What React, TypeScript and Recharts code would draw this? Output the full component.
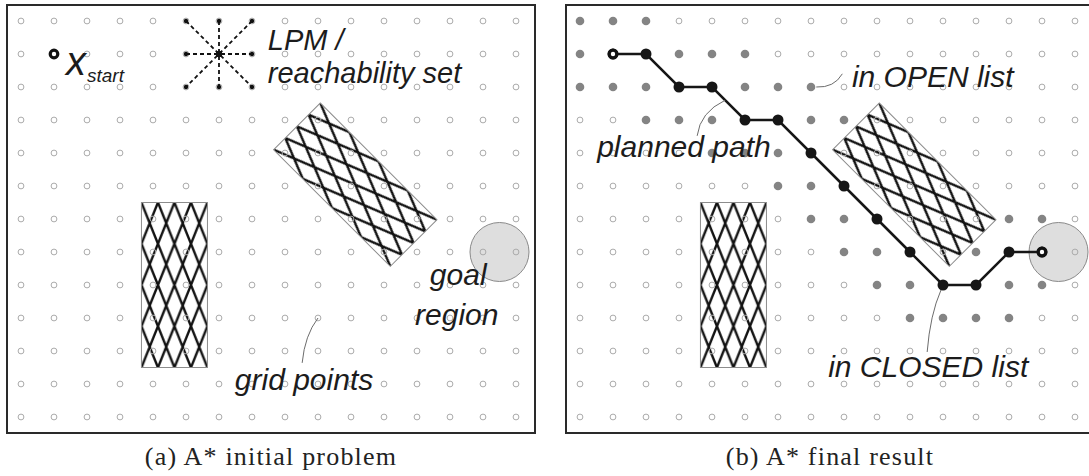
import React from 'react';
import { ScatterChart, Scatter, XAxis, YAxis } from 'recharts';

// grid of the planning problem (column / row indices)
const COLS = [0, 1, 2, 3, 4, 5, 6, 7, 8, 9, 10, 11, 12, 13, 14, 15];
const ROWS = [0, 1, 2, 3, 4, 5, 6, 7, 8, 9, 10, 11, 12];

const START = [{ x: 1, y: 1 }];
const GOAL = [{ x: 14, y: 7 }];
const GOAL_REGION = [{ x: 14.5, y: 7 }];

// LPM star around one grid point
const LPM_CENTER = [{ x: 6, y: 1 }];
const LPM_RAYS = [
  [{ x: 5, y: 1 }, { x: 6, y: 1 }, { x: 7, y: 1 }],
  [{ x: 6, y: 0 }, { x: 6, y: 1 }, { x: 6, y: 2 }],
  [{ x: 5, y: 0 }, { x: 6, y: 1 }, { x: 7, y: 2 }],
  [{ x: 7, y: 0 }, { x: 6, y: 1 }, { x: 5, y: 2 }],
];
const LPM_ENDS = [
  { x: 5, y: 0 }, { x: 6, y: 0 }, { x: 7, y: 0 }, { x: 5, y: 1 },
  { x: 7, y: 1 }, { x: 5, y: 2 }, { x: 6, y: 2 }, { x: 7, y: 2 },
];

// search result, one string per row: G = visited, P = on path, S = start, E = goal
const SEARCH_B = [
  'GGG.............',
  'GSPGGG..........',
  'GGGPPGGG........',
  '..GGGPPGG.......',
  '....GGGP........',
  '......GGP.......',
  '.......GGP...GG.',
  '........GGP.GPE.',
  '.........GGPPGG.',
  '..........GGGG..',
  '................',
  '................',
  '................',
];
const PATH_B = [
  [1, 1], [2, 1], [3, 2], [4, 2], [5, 3], [6, 3], [7, 4],
  [8, 5], [9, 6], [10, 7], [11, 8], [12, 8], [13, 7], [14, 7],
];

// obstacles: centre, size in grid units, rotation
const OBSTACLES = [
  { x: 4.65, y: 8.0, w: 2, h: 5, angle: 0 },
  { x: 10.13, y: 4.96, w: 2, h: 5, angle: -45 },
];

const UNIT = 33;
const INNER_W = 526;
const INNER_H = 426;
const MARGIN = { top: 15, right: 18, bottom: 15, left: 13 };
const TILE_W = 16.5;
const TILE_H = 41.25;
const LABEL_FONT = '"Liberation Sans", Arial, sans-serif';

const NOTES_A = [
  { x: 1.36, y: 1.64, text: 'x', size: 40 },
  { x: 2.0, y: 1.85, text: 'start', size: 19 },
  { x: 7.48, y: 0.88, text: 'LPM /', size: 29 },
  { x: 7.48, y: 1.88, text: 'reachability set', size: 29 },
  { x: 12.39, y: 8.0, text: 'goal', size: 30 },
  { x: 11.94, y: 9.21, text: 'region', size: 30 },
  { x: 6.48, y: 11.18, text: 'grid points', size: 30 },
];
const NOTES_B = [
  { x: 8.24, y: 2.0, text: 'in OPEN list', size: 30 },
  { x: 0.52, y: 4.12, text: 'planned path', size: 30 },
  { x: 7.52, y: 10.79, text: 'in CLOSED list', size: 30 },
];
const POINTERS_A = [{ x: 8.52, y: 10.36, ctrl: [8.6, 9.52], to: [9, 9] }];
const POINTERS_B = [
  { x: 3.55, y: 3.48, ctrl: [3.64, 2.76], to: [4.4, 2.4] },
  { x: 7.16, y: 2.0, ctrl: [7.7, 2.03], to: [7.95, 1.6] },
  { x: 10.52, y: 10.03, ctrl: [10.61, 8.9], to: [10.94, 8.15] },
];

const gridAll = ROWS.flatMap((r) => COLS.map((c) => ({ x: c, y: r })));
const cellsB = (ch: string) =>
  ROWS.flatMap((r) => COLS.filter((c) => SEARCH_B[r][c] === ch).map((c) => ({ x: c, y: r })));
const hollowB = cellsB('.');
const openB = cellsB('G');
const pathB = PATH_B.map(([x, y]) => ({ x, y }));

const Nothing = () => <g />;
const Hollow = (p: any) => (
  <circle cx={p.cx} cy={p.cy} r={2.9} fill="none" stroke="#ababab" strokeWidth={1} />
);
const OpenDot = (p: any) => <circle cx={p.cx} cy={p.cy} r={4.3} fill="#848484" />;
const PathDot = (p: any) => <circle cx={p.cx} cy={p.cy} r={5.5} fill="#161616" />;
const Ring = (p: any) => (
  <circle cx={p.cx} cy={p.cy} r={3.8} fill="#fff" stroke="#111" strokeWidth={3.2} />
);
const SmallDot = (p: any) => <circle cx={p.cx} cy={p.cy} r={2.2} fill="#111" />;
const CenterDot = (p: any) => <circle cx={p.cx} cy={p.cy} r={3.2} fill="#111" />;
const GoalArea = (p: any) => (
  <circle cx={p.cx} cy={p.cy} r={0.894 * UNIT} fill="#dedede" stroke="#8a8a8a" strokeWidth={1} />
);

const makeObstacle = (panel: string) => (p: any) => {
  const { w, h, angle } = p.payload;
  const id = `hatch-${panel}-${p.index}`;
  const wp = w * UNIT;
  const hp = h * UNIT;
  const W = TILE_W;
  const H = TILE_H;
  const d = [
    `M${-W},${-H}L${2 * W},${2 * H}`,
    `M0,${-H}L${2 * W},${H}`,
    `M${-W},0L${W},${2 * H}`,
    `M${-W},${2 * H}L${2 * W},${-H}`,
    `M${-W},${H}L${W},${-H}`,
    `M0,${2 * H}L${2 * W},0`,
  ].join('');
  return (
    <g transform={`translate(${p.cx},${p.cy}) rotate(${angle})`}>
      <defs>
        <pattern id={id} patternUnits="userSpaceOnUse" x={-wp / 2} y={-hp / 2} width={W} height={H}>
          <path d={d} stroke="#111" strokeWidth={2.4} fill="none" />
        </pattern>
      </defs>
      <rect x={-wp / 2} y={-hp / 2} width={wp} height={hp} fill={`url(#${id})`} stroke="#8c8c8c" strokeWidth={1} />
    </g>
  );
};

const Note = (p: any) => (
  <text
    x={p.cx}
    y={p.cy}
    fontFamily={LABEL_FONT}
    fontStyle="italic"
    fontSize={p.payload.size}
    fill="#1c1c1c"
  >
    {p.payload.text}
  </text>
);

const Pointer = (p: any) => {
  const { x, y, ctrl, to } = p.payload;
  const qx = p.cx + (ctrl[0] - x) * UNIT;
  const qy = p.cy + (ctrl[1] - y) * UNIT;
  const ex = p.cx + (to[0] - x) * UNIT;
  const ey = p.cy + (to[1] - y) * UNIT;
  return <path d={`M${p.cx},${p.cy}Q${qx},${qy} ${ex},${ey}`} fill="none" stroke="#6c6c6c" strokeWidth={1} />;
};

const Panel = ({ left, children }: { left: number; children: React.ReactNode }) => (
  <div
    style={{
      position: 'absolute',
      left,
      top: 4,
      width: INNER_W,
      height: INNER_H,
      border: '2px solid #2a2a2a',
      background: '#fff',
    }}
  >
    <ScatterChart width={INNER_W} height={INNER_H} margin={MARGIN} style={{ overflow: 'visible' }}>
      <XAxis type="number" dataKey="x" domain={[0, 15]} hide />
      <YAxis type="number" dataKey="y" domain={[0, 12]} reversed hide />
      {children}
    </ScatterChart>
  </div>
);

const captionStyle: React.CSSProperties = {
  position: 'absolute',
  top: 444,
  textAlign: 'center',
  fontFamily: '"Liberation Serif", "Times New Roman", serif',
  fontSize: 26,
  lineHeight: '26px',
  letterSpacing: 1.2,
  color: '#222',
};

export default function App() {
  return (
    <div
      style={{
        position: 'fixed',
        left: 0,
        top: 0,
        width: 1089,
        height: 476,
        overflow: 'hidden',
        background: '#fff',
      }}
    >
      <Panel left={6}>
        <Scatter data={GOAL_REGION} shape={GoalArea} isAnimationActive={false} />
        <Scatter data={OBSTACLES} shape={makeObstacle('a')} isAnimationActive={false} />
        <Scatter data={gridAll} shape={Hollow} isAnimationActive={false} />
        {LPM_RAYS.map((ray, i) => (
          <Scatter
            key={i}
            data={ray}
            line={{ stroke: '#111', strokeWidth: 1.8, strokeDasharray: '4 3' }}
            fill="#111"
            shape={Nothing}
            isAnimationActive={false}
          />
        ))}
        <Scatter data={LPM_ENDS} shape={SmallDot} isAnimationActive={false} />
        <Scatter data={LPM_CENTER} shape={CenterDot} isAnimationActive={false} />
        <Scatter data={START} shape={Ring} isAnimationActive={false} />
        <Scatter data={POINTERS_A} shape={Pointer} isAnimationActive={false} />
        <Scatter data={NOTES_A} shape={Note} isAnimationActive={false} />
      </Panel>
      <Panel left={565}>
        <Scatter data={GOAL_REGION} shape={GoalArea} isAnimationActive={false} />
        <Scatter data={OBSTACLES} shape={makeObstacle('b')} isAnimationActive={false} />
        <Scatter data={hollowB} shape={Hollow} isAnimationActive={false} />
        <Scatter data={openB} shape={OpenDot} isAnimationActive={false} />
        <Scatter
          data={pathB}
          line={{ stroke: '#161616', strokeWidth: 2.5 }}
          fill="#161616"
          shape={PathDot}
          isAnimationActive={false}
        />
        <Scatter data={START} shape={Ring} isAnimationActive={false} />
        <Scatter data={GOAL} shape={Ring} isAnimationActive={false} />
        <Scatter data={POINTERS_B} shape={Pointer} isAnimationActive={false} />
        <Scatter data={NOTES_B} shape={Note} isAnimationActive={false} />
      </Panel>
      <div style={{ ...captionStyle, left: 0, width: 542 }}>(a) A* initial problem</div>
      <div style={{ ...captionStyle, left: 560, width: 540 }}>(b) A* final result</div>
    </div>
  );
}
